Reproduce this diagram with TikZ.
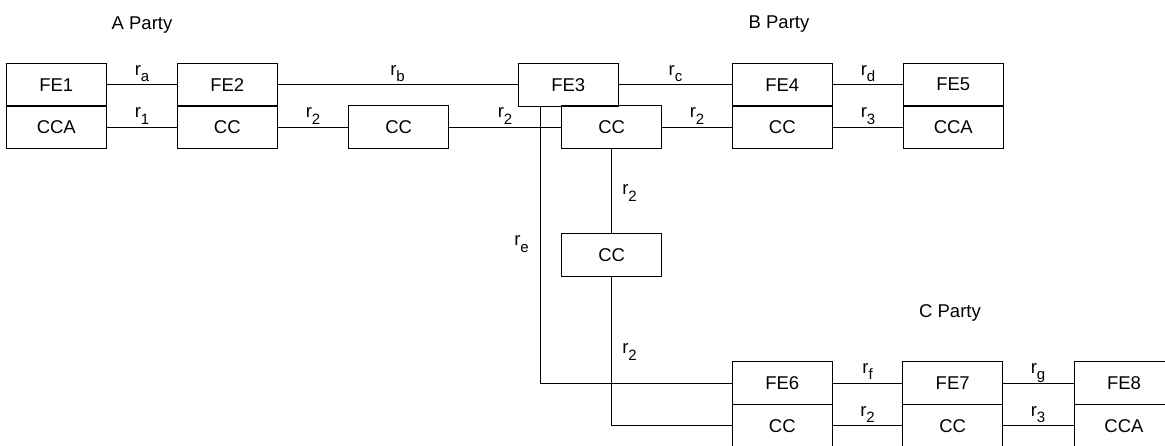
\documentclass[tikz,border=0pt]{standalone}
\usepackage{fontspec}
\setmainfont{Liberation Sans}
\newcommand{\rlab}[1]{r\raisebox{-6.5pt}{\fontsize{15}{15}\selectfont #1}}
\begin{document}
\begin{tikzpicture}[x=1pt,y=-1pt,
  box/.style={draw, line width=1pt, rectangle, minimum width=100pt, minimum height=42.7pt, inner sep=0pt, font=\fontsize{18.5}{22}\selectfont},
  conn/.style={draw, line width=0.9pt},
  lab/.style={anchor=base, inner sep=0pt, font=\fontsize{18.5}{22}\selectfont},
  party/.style={anchor=base, inner sep=0pt, font=\fontsize{18.5}{22}\selectfont}]
\useasboundingbox (0,0) rectangle (1165,446);
% party titles
\node[party] (pa) at (142,29.3) {A Party};
\node[party] (pb) at (779,28.3) {B Party};
\node[party] (pc) at (950,318) {C Party};
% boxes
\node[box] (fe1) at (56.3,84.7) {FE1};
\node[box] (cca1) at (56.3,127.3) {CCA};
\node[box] (fe2) at (227.3,84.7) {FE2};
\node[box] (cc2) at (227.3,127.3) {CC};
\node[box] (ccm) at (398.7,127.3) {CC};
\node[box] (fe3) at (568.3,84.7) {FE3};
\node[box] (cc3) at (611.7,127.3) {CC};
\node[box] (fe4) at (782.3,84.7) {FE4};
\node[box] (cc4) at (782.3,127.3) {CC};
\node[box] (fe5) at (953.3,84.7) {FE5};
\node[box] (cca5) at (953.3,127.3) {CCA};
\node[box] (ccv) at (611.7,254.7) {CC};
\node[box] (fe6) at (782.3,383) {FE6};
\node[box] (cc6) at (782.3,425.7) {CC};
\node[box] (fe7) at (952.7,383) {FE7};
\node[box] (cc7) at (952.7,425.7) {CC};
\node[box] (fe8) at (1124,383) {FE8};
\node[box] (cca8) at (1124,425.7) {CCA};
\coordinate (retop) at (540.7,106);
% connectors
\draw[conn] (fe1.east) -- (fe2.west);
\draw[conn] (cca1.east) -- (cc2.west);
\draw[conn] (fe2.east) -- (fe3.west);
\draw[conn] (cc2.east) -- (ccm.west);
\draw[conn] (ccm.east) -- (cc3.west);
\draw[conn] (fe3.east) -- (fe4.west);
\draw[conn] (cc3.east) -- (cc4.west);
\draw[conn] (fe4.east) -- (fe5.west);
\draw[conn] (cc4.east) -- (cca5.west);
\draw[conn] (retop) |- (fe6.west);
\draw[conn] (cc3.south) -- (ccv.north);
\draw[conn] (ccv.south) |- (cc6.west);
\draw[conn] (fe6.east) -- (fe7.west);
\draw[conn] (cc6.east) -- (cc7.west);
\draw[conn] (fe7.east) -- (fe8.west);
\draw[conn] (cc7.east) -- (cca8.west);
% labels
\node[lab] (la) at (142,75.2) {\rlab{a}};
\node[lab] (l1) at (142,117.8) {\rlab{1}};
\node[lab] (lb) at (397.5,75.2) {\rlab{b}};
\node[lab] (l2a) at (313,117.8) {\rlab{2}};
\node[lab] (l2b) at (505,117.8) {\rlab{2}};
\node[lab] (lc) at (675.5,75.2) {\rlab{c}};
\node[lab] (l2c) at (697,117.8) {\rlab{2}};
\node[lab] (ld) at (868,75.2) {\rlab{d}};
\node[lab] (l3) at (868,117.8) {\rlab{3}};
\node[lab] (le) at (521.5,246) {\rlab{e}};
\node[lab] (l2d) at (629.5,195) {\rlab{2}};
\node[lab] (l2e) at (629.5,354) {\rlab{2}};
\node[lab] (lf) at (867.5,373.5) {\rlab{f}};
\node[lab] (l2f) at (867.5,416.2) {\rlab{2}};
\node[lab] (lg) at (1038,373.5) {\rlab{g}};
\node[lab] (l3b) at (1038,416.2) {\rlab{3}};
\end{tikzpicture}
\end{document}
